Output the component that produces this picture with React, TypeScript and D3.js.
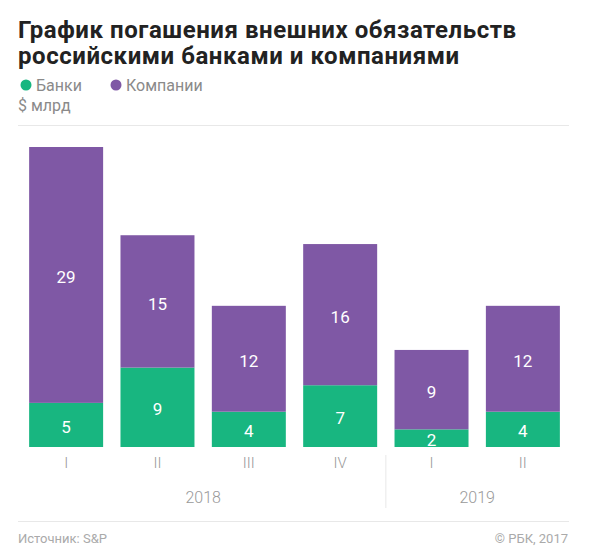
import React from "react";
import * as d3 from "d3";

const quarters = ["I", "II", "III", "IV", "I", "II"];
const years = ["2018", "2018", "2018", "2018", "2019", "2019"];
const banks = [5, 9, 4, 7, 2, 4];
const companies = [29, 15, 12, 16, 9, 12];
const seriesNames = ["Банки", "Компании"];
const colors = ["#18b680", "#7f58a5"];

const W = 590;
const H = 559;
const FONT = "Roboto, 'Noto Sans', sans-serif";

export default function App() {
  const ids = quarters.map((_, i) => String(i));
  const x = d3.scaleBand<string>().domain(ids).range([20, 569]).paddingInner(0.19).paddingOuter(0.1);
  const y = d3.scaleLinear().domain([0, 34]).range([447, 147]);
  const rows = quarters.map((q, i) => ({ id: String(i), banks: banks[i], companies: companies[i] }));
  const stack = d3.stack<any>().keys(["banks", "companies"]);
  const series = stack(rows);

  const yearGroups = Array.from(new Set(years)).map((yr) => {
    const idx = years.map((v, i) => (v === yr ? i : -1)).filter((i) => i >= 0);
    const first = x(String(idx[0]))!;
    const last = x(String(idx[idx.length - 1]))! + x.bandwidth();
    return { yr, cx: (first + last) / 2, first, last };
  });

  return (
    <div style={{ position: "absolute", left: 0, top: 0 }}>
      <svg width={W} height={H} style={{ display: "block" }}>
        <rect width={W} height={H} fill="#fff" />
        <text x={18} y={38} fontFamily={FONT} fontWeight={700} fontSize={24} letterSpacing={0.55} fill="#222">
          График погашения внешних обязательств
        </text>
        <text x={18} y={64} fontFamily={FONT} fontWeight={700} fontSize={24} letterSpacing={0.55} fill="#222">
          российскими банками и компаниями
        </text>
        {seriesNames.map((n, i) => (
          <g key={n} transform={`translate(${i === 0 ? 26 : 116},85)`}>
            <circle r={5.5} fill={colors[i]} />
            <text x={10} y={5.5} fontFamily={FONT} fontSize={16} fill="#8a8a8a">
              {n}
            </text>
          </g>
        ))}
        <text x={18} y={111} fontFamily={FONT} fontSize={16} fill="#8a8a8a">
          $ млрд
        </text>
        <line x1={18} x2={569} y1={125.5} y2={125.5} stroke="#e8e8e8" />

        {series.map((s, si) =>
          s.map((d, i) => (
            <g key={`${si}-${i}`}>
              <rect
                x={x(String(i))}
                y={y(d[1])}
                width={x.bandwidth()}
                height={y(d[0]) - y(d[1])}
                fill={colors[si]}
              />
              <text
                x={x(String(i))! + x.bandwidth() / 2}
                y={(y(d[0]) + y(d[1])) / 2 + 2}
                dy="0.36em"
                textAnchor="middle"
                fontFamily={FONT}
                fontSize={17}
                fill="#fff"
              >
                {d[1] - d[0]}
              </text>
            </g>
          ))
        )}

        {quarters.map((q, i) => (
          <text
            key={i}
            x={x(String(i))! + x.bandwidth() / 2}
            y={468}
            textAnchor="middle"
            fontFamily={FONT}
            fontWeight={300}
            fontSize={15}
            fill="#999"
          >
            {q}
          </text>
        ))}
        {yearGroups.map((g) => (
          <text
            key={g.yr}
            x={g.cx}
            y={503}
            textAnchor="middle"
            fontFamily={FONT}
            fontWeight={300}
            fontSize={16}
            fill="#999"
          >
            {g.yr}
          </text>
        ))}
        {yearGroups.slice(1).map((g) => (
          <line
            key={"sep" + g.yr}
            x1={g.first - x.step() * x.paddingInner() / 2}
            x2={g.first - x.step() * x.paddingInner() / 2}
            y1={455}
            y2={508}
            stroke="#e8e8e8"
          />
        ))}
        <line x1={18} x2={569} y1={521.5} y2={521.5} stroke="#e8e8e8" />
        <text x={18} y={543} fontFamily={FONT} fontSize={13} fill="#aaa">
          Источник: S&amp;P
        </text>
        <text x={568} y={543} textAnchor="end" fontFamily={FONT} fontSize={13} fill="#aaa">
          © РБК, 2017
        </text>
      </svg>
    </div>
  );
}
